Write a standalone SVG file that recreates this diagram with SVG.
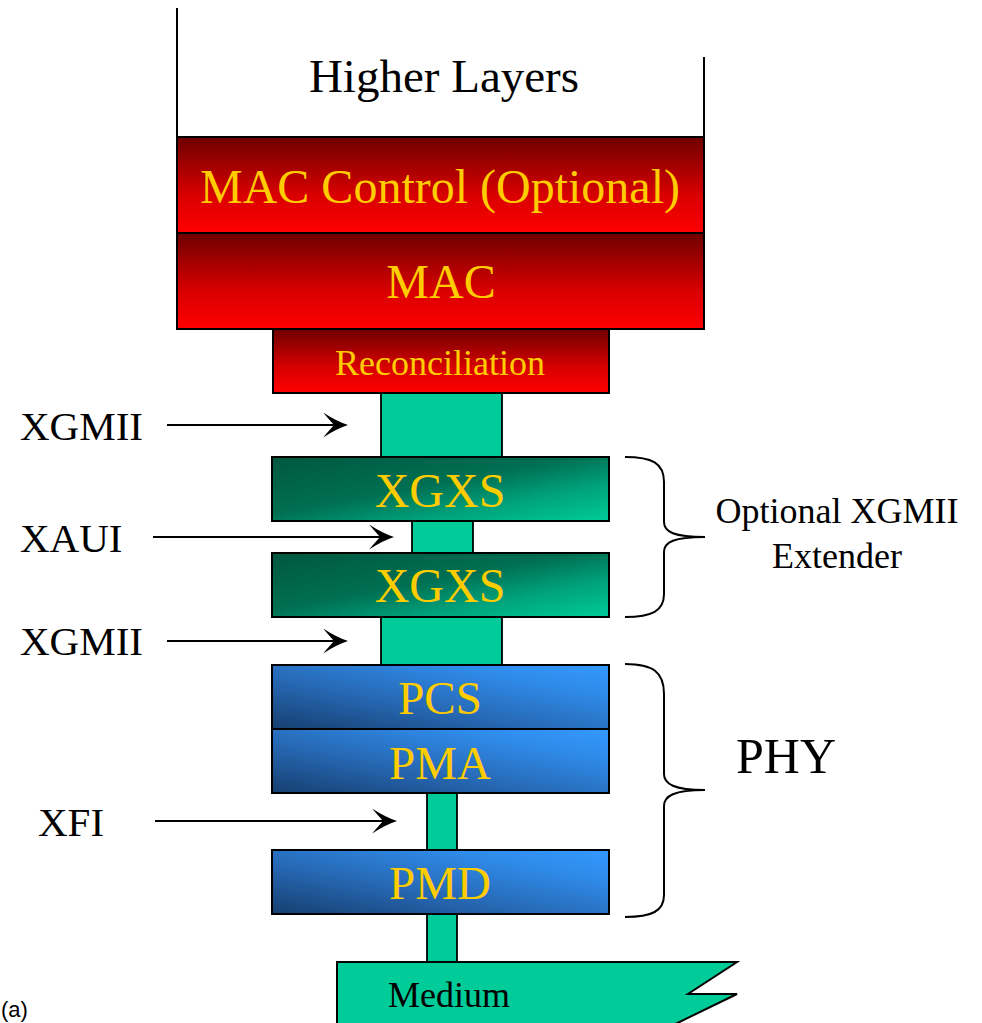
<svg xmlns="http://www.w3.org/2000/svg" width="982" height="1023" viewBox="0 0 982 1023">
<defs>
<linearGradient id="gRed" x1="0" y1="0" x2="0" y2="1">
<stop offset="0" stop-color="#6e0000"/>
<stop offset="0.6" stop-color="#d80000"/>
<stop offset="1" stop-color="#ff0000"/>
</linearGradient>
<linearGradient id="gGreen" x1="0" y1="0" x2="1" y2="1">
<stop offset="0" stop-color="#005840"/>
<stop offset="0.45" stop-color="#006f52"/>
<stop offset="0.7" stop-color="#00a07a"/>
<stop offset="1" stop-color="#00cc99"/>
</linearGradient>
<linearGradient id="gBlue" x1="0" y1="1" x2="1" y2="0">
<stop offset="0" stop-color="#163f70"/>
<stop offset="0.4" stop-color="#2769b5"/>
<stop offset="0.75" stop-color="#2f8ae8"/>
<stop offset="1" stop-color="#3399ff"/>
</linearGradient>
<marker id="arr" viewBox="0 0 25 25" refX="15" refY="12.5" markerWidth="25" markerHeight="25" markerUnits="userSpaceOnUse" orient="auto">
<path d="M0,0 Q14,9 25,12.5 Q14,16 0,25 L11,12.5 Z" fill="#000"/>
</marker>
</defs>
<style>
.box{stroke:#000;stroke-width:2}
.red{fill:url(#gRed)}
.grn{fill:url(#gGreen)}
.blu{fill:url(#gBlue)}
.bar{fill:#00cc99;stroke:#000;stroke-width:1.8}
.lbl{font-family:"Liberation Serif","Times New Roman",serif;fill:#ffcc00;text-anchor:middle}
.blk{font-family:"Liberation Serif","Times New Roman",serif;fill:#000}
.arrow{stroke:#000;stroke-width:2;fill:none;marker-end:url(#arr)}
.brace{stroke:#000;stroke-width:2;fill:none}
</style>
<rect width="982" height="1023" fill="#fff"/>

<g id="links">
<rect class="bar" x="381" y="392" width="121" height="66"/>
<rect class="bar" x="412" y="520" width="61" height="34"/>
<rect class="bar" x="381" y="617" width="121" height="49"/>
<rect class="bar" x="427" y="792" width="30" height="59"/>
<rect class="bar" x="427" y="913" width="30" height="50"/>
</g>

<g id="higher-layers">
<line x1="177" y1="8" x2="177" y2="137" stroke="#000" stroke-width="2"/>
<line x1="704" y1="57" x2="704" y2="137" stroke="#000" stroke-width="2"/>
<text class="blk" x="444" y="92" font-size="47" text-anchor="middle">Higher Layers</text>
</g>

<g id="mac-control">
<rect class="box red" x="177" y="137" width="527" height="96"/>
<text class="lbl" x="440" y="203" font-size="48">MAC Control (Optional)</text>
</g>

<g id="mac">
<rect class="box red" x="177" y="233" width="527" height="96"/>
<text class="lbl" x="441" y="298" font-size="48">MAC</text>
</g>

<g id="reconciliation">
<rect class="box red" x="273" y="329" width="336" height="64"/>
<text class="lbl" x="440" y="375" font-size="36">Reconciliation</text>
</g>

<g id="xgxs-1">
<rect class="box grn" x="272" y="457" width="337" height="64"/>
<text class="lbl" x="440" y="507" font-size="48">XGXS</text>
</g>

<g id="xgxs-2">
<rect class="box grn" x="272" y="553" width="337" height="64"/>
<text class="lbl" x="440" y="602" font-size="48">XGXS</text>
</g>

<g id="pcs">
<rect class="box blu" x="272" y="665" width="337" height="64"/>
<text class="lbl" x="440" y="714" font-size="47">PCS</text>
</g>

<g id="pma">
<rect class="box blu" x="272" y="729" width="337" height="64"/>
<text class="lbl" x="440" y="779" font-size="47">PMA</text>
</g>

<g id="pmd">
<rect class="box blu" x="272" y="850" width="337" height="64"/>
<text class="lbl" x="440" y="899" font-size="47">PMD</text>
</g>

<g id="medium">
<path d="M337,1030 L337,962 L737,962 L688,994 L737,994 L663,1030" fill="#00cc99" stroke="#000" stroke-width="2"/>
<text class="blk" x="388" y="1007" font-size="36">Medium</text>
</g>

<g id="extender-brace">
<path class="brace" d="M625,457 C652,457 664,463 664,482 L664,522 C664,532 674,537 705,537 C674,537 664,542 664,552 L664,594 C664,611 652,617 625,617"/>
<text class="blk" x="837" y="523" font-size="36" text-anchor="middle">Optional XGMII</text>
<text class="blk" x="837" y="568" font-size="36" text-anchor="middle">Extender</text>
</g>

<g id="phy-brace">
<path class="brace" d="M625,664 C653,664 664,672 664,694 L664,774 C664,784 674,790 705,790 C674,790 664,796 664,806 L664,895 C664,911 652,917 625,917"/>
<text class="blk" x="736" y="773" font-size="50">PHY</text>
</g>

<g id="connectors">
<line class="arrow" x1="167" y1="425" x2="338" y2="425"/>
<line class="arrow" x1="153" y1="537" x2="384" y2="537"/>
<line class="arrow" x1="167" y1="641" x2="338" y2="641"/>
<line class="arrow" x1="155" y1="821" x2="387" y2="821"/>
</g>

<g id="interface-labels">
<text class="blk" x="20" y="440" font-size="41">XGMII</text>
<text class="blk" x="20" y="552" font-size="41">XAUI</text>
<text class="blk" x="20" y="655" font-size="41">XGMII</text>
<text class="blk" x="38" y="836" font-size="41">XFI</text>
</g>

<text x="1" y="1017" font-family="Liberation Sans, Arial, sans-serif" font-size="22" fill="#000">(a)</text>
</svg>
